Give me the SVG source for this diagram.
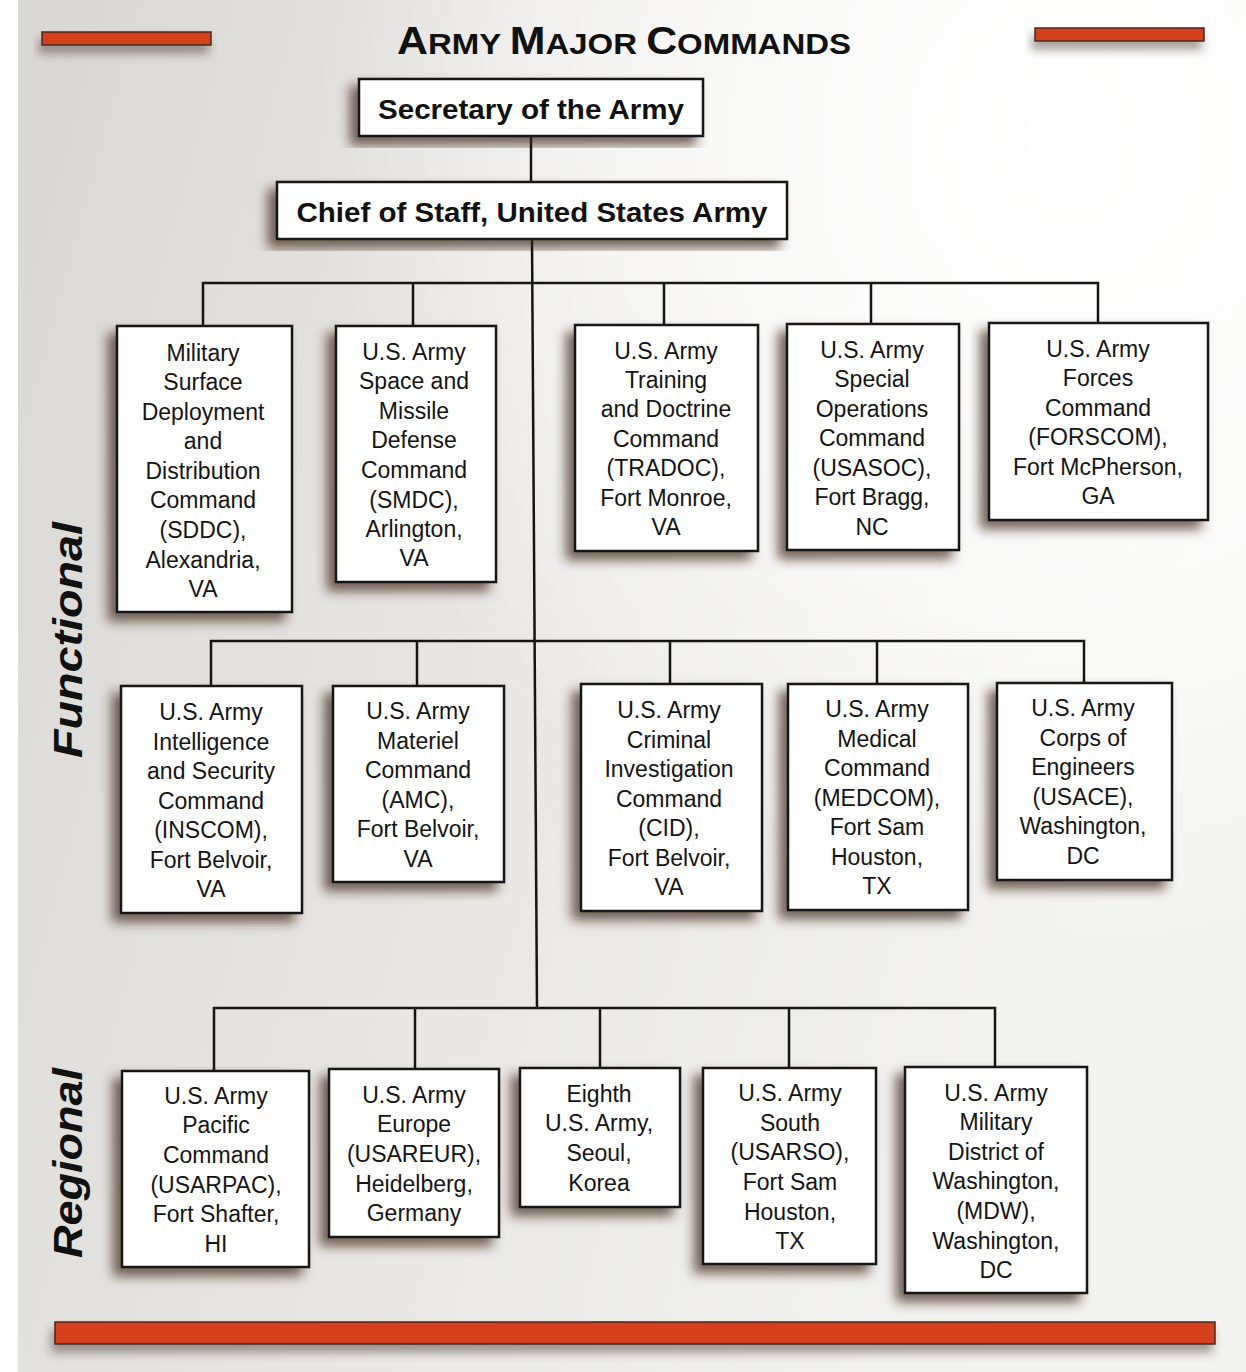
<svg xmlns="http://www.w3.org/2000/svg" width="1246" height="1372" viewBox="0 0 1246 1372">
<defs>
<linearGradient id="bg" x1="0" y1="0" x2="1" y2="0.3">
<stop offset="0" stop-color="#d9d7d3"/>
<stop offset="0.5" stop-color="#e8e7e4"/>
<stop offset="1" stop-color="#f3f3f1"/>
</linearGradient>
<radialGradient id="hl" cx="0.85" cy="0.1" r="0.6">
<stop offset="0" stop-color="#ffffff" stop-opacity="1"/>
<stop offset="0.6" stop-color="#ffffff" stop-opacity="0.6"/>
<stop offset="1" stop-color="#ffffff" stop-opacity="0"/>
</radialGradient>
<filter id="sh" x="-20%" y="-10%" width="140%" height="130%">
<feDropShadow dx="-8" dy="8" stdDeviation="6" flood-color="#3a2418" flood-opacity="0.7"/>
</filter>
<filter id="shb" x="-5%" y="-50%" width="110%" height="300%">
<feDropShadow dx="-3" dy="8" stdDeviation="5" flood-color="#3a2a20" flood-opacity="0.45"/>
</filter>
</defs>
<style>
.box { fill: #ffffff; stroke: #151515; stroke-width: 2.5; filter: url(#sh); }
.t { font-family: "Liberation Sans", Arial, sans-serif; font-size: 23px; fill: #141414; text-anchor: middle; }
.h { font-family: "Liberation Sans", Arial, sans-serif; font-size: 28px; font-weight: bold; fill: #111; text-anchor: middle; }
.side { font-family: "Liberation Sans", Arial, sans-serif; font-size: 40px; font-weight: bold; font-style: italic; fill: #111; text-anchor: middle; }
.bar { fill: #d4411f; stroke: #4a2a20; stroke-width: 1.5; filter: url(#shb); }
.ln { fill: none; stroke: #151515; stroke-width: 2.5; }
</style>
<rect x="0" y="0" width="1246" height="1372" fill="url(#bg)"/>
<rect x="0" y="0" width="1246" height="1372" fill="url(#hl)"/>
<rect x="0" y="0" width="18" height="1372" fill="#ffffff"/>

<rect class="bar" x="42" y="32" width="169" height="13"/>
<rect class="bar" x="1035" y="28" width="169" height="13"/>
<rect class="bar" x="55" y="1322" width="1160" height="22"/>

<text x="624" y="54" font-family="Liberation Sans, Arial, sans-serif" font-weight="bold" fill="#111" text-anchor="middle" textLength="454" lengthAdjust="spacingAndGlyphs"><tspan font-size="39">A</tspan><tspan font-size="30">RMY </tspan><tspan font-size="39">M</tspan><tspan font-size="30">AJOR </tspan><tspan font-size="39">C</tspan><tspan font-size="30">OMMANDS</tspan></text>

<text class="side" transform="translate(82,640) rotate(-90)" textLength="236" lengthAdjust="spacingAndGlyphs">Functional</text>
<text class="side" transform="translate(82,1163) rotate(-90)" textLength="190" lengthAdjust="spacingAndGlyphs">Regional</text>

<g id="connectors">
<path class="ln" d="M531 136 V182"/>
<path class="ln" d="M532 239 L537 1008"/>
<path class="ln" d="M203 326 V283 H1098 V323 M413 326 V283 M664 325 V283 M871 324 V283"/>
<path class="ln" d="M211 686 V641 H1084 V683 M417 686 V641 M670 684 V641 M877 684 V641"/>
<path class="ln" d="M214 1071 V1008 H995 V1067 M415 1069 V1008 M600 1068 V1008 M789 1068 V1008"/>
</g>

<g id="sec">
<rect class="box" x="359" y="79" width="344" height="57"/>
<text class="h" x="531" y="119" textLength="306" lengthAdjust="spacingAndGlyphs">Secretary of the Army</text>
</g>
<g id="chief">
<rect class="box" x="277" y="182" width="510" height="57"/>
<text class="h" x="532" y="222" textLength="471" lengthAdjust="spacingAndGlyphs">Chief of Staff, United States Army</text>
</g>

<g id="sddc">
<rect class="box" x="117" y="326" width="175" height="286"/>
<text class="t"><tspan x="203" y="361">Military</tspan><tspan x="203" y="390">Surface</tspan><tspan x="203" y="420">Deployment</tspan><tspan x="203" y="449">and</tspan><tspan x="203" y="479">Distribution</tspan><tspan x="203" y="508">Command</tspan><tspan x="203" y="538">(SDDC),</tspan><tspan x="203" y="568">Alexandria,</tspan><tspan x="203" y="597">VA</tspan></text>
</g>
<g id="smdc">
<rect class="box" x="336" y="326" width="160" height="256"/>
<text class="t"><tspan x="414" y="360">U.S. Army</tspan><tspan x="414" y="389">Space and</tspan><tspan x="414" y="419">Missile</tspan><tspan x="414" y="448">Defense</tspan><tspan x="414" y="478">Command</tspan><tspan x="414" y="508">(SMDC),</tspan><tspan x="414" y="537">Arlington,</tspan><tspan x="414" y="566">VA</tspan></text>
</g>
<g id="tradoc">
<rect class="box" x="575" y="325" width="183" height="226"/>
<text class="t"><tspan x="666" y="359">U.S. Army</tspan><tspan x="666" y="388">Training</tspan><tspan x="666" y="417">and Doctrine</tspan><tspan x="666" y="447">Command</tspan><tspan x="666" y="476">(TRADOC),</tspan><tspan x="666" y="506">Fort Monroe,</tspan><tspan x="666" y="535">VA</tspan></text>
</g>
<g id="usasoc">
<rect class="box" x="787" y="324" width="172" height="226"/>
<text class="t"><tspan x="872" y="358">U.S. Army</tspan><tspan x="872" y="387">Special</tspan><tspan x="872" y="417">Operations</tspan><tspan x="872" y="446">Command</tspan><tspan x="872" y="476">(USASOC),</tspan><tspan x="872" y="505">Fort Bragg,</tspan><tspan x="872" y="535">NC</tspan></text>
</g>
<g id="forscom">
<rect class="box" x="989" y="323" width="219" height="197"/>
<text class="t"><tspan x="1098" y="357">U.S. Army</tspan><tspan x="1098" y="386">Forces</tspan><tspan x="1098" y="416">Command</tspan><tspan x="1098" y="445">(FORSCOM),</tspan><tspan x="1098" y="475">Fort McPherson,</tspan><tspan x="1098" y="504">GA</tspan></text>
</g>

<g id="inscom">
<rect class="box" x="121" y="686" width="181" height="227"/>
<text class="t"><tspan x="211" y="720">U.S. Army</tspan><tspan x="211" y="750">Intelligence</tspan><tspan x="211" y="779">and Security</tspan><tspan x="211" y="809">Command</tspan><tspan x="211" y="838">(INSCOM),</tspan><tspan x="211" y="868">Fort Belvoir,</tspan><tspan x="211" y="897">VA</tspan></text>
</g>
<g id="amc">
<rect class="box" x="333" y="686" width="171" height="196"/>
<text class="t"><tspan x="418" y="719">U.S. Army</tspan><tspan x="418" y="749">Materiel</tspan><tspan x="418" y="778">Command</tspan><tspan x="418" y="808">(AMC),</tspan><tspan x="418" y="837">Fort Belvoir,</tspan><tspan x="418" y="867">VA</tspan></text>
</g>
<g id="cid">
<rect class="box" x="581" y="684" width="181" height="227"/>
<text class="t"><tspan x="669" y="718">U.S. Army</tspan><tspan x="669" y="748">Criminal</tspan><tspan x="669" y="777">Investigation</tspan><tspan x="669" y="807">Command</tspan><tspan x="669" y="836">(CID),</tspan><tspan x="669" y="866">Fort Belvoir,</tspan><tspan x="669" y="895">VA</tspan></text>
</g>
<g id="medcom">
<rect class="box" x="788" y="684" width="180" height="226"/>
<text class="t"><tspan x="877" y="717">U.S. Army</tspan><tspan x="877" y="747">Medical</tspan><tspan x="877" y="776">Command</tspan><tspan x="877" y="806">(MEDCOM),</tspan><tspan x="877" y="835">Fort Sam</tspan><tspan x="877" y="865">Houston,</tspan><tspan x="877" y="894">TX</tspan></text>
</g>
<g id="usace">
<rect class="box" x="997" y="683" width="175" height="197"/>
<text class="t"><tspan x="1083" y="716">U.S. Army</tspan><tspan x="1083" y="746">Corps of</tspan><tspan x="1083" y="775">Engineers</tspan><tspan x="1083" y="805">(USACE),</tspan><tspan x="1083" y="834">Washington,</tspan><tspan x="1083" y="864">DC</tspan></text>
</g>

<g id="usarpac">
<rect class="box" x="122" y="1071" width="187" height="196"/>
<text class="t"><tspan x="216" y="1104">U.S. Army</tspan><tspan x="216" y="1133">Pacific</tspan><tspan x="216" y="1163">Command</tspan><tspan x="216" y="1193">(USARPAC),</tspan><tspan x="216" y="1222">Fort Shafter,</tspan><tspan x="216" y="1252">HI</tspan></text>
</g>
<g id="usareur">
<rect class="box" x="329" y="1069" width="170" height="168"/>
<text class="t"><tspan x="414" y="1103">U.S. Army</tspan><tspan x="414" y="1132">Europe</tspan><tspan x="414" y="1162">(USAREUR),</tspan><tspan x="414" y="1192">Heidelberg,</tspan><tspan x="414" y="1221">Germany</tspan></text>
</g>
<g id="eighth">
<rect class="box" x="520" y="1068" width="160" height="139"/>
<text class="t"><tspan x="599" y="1102">Eighth</tspan><tspan x="599" y="1131">U.S. Army,</tspan><tspan x="599" y="1161">Seoul,</tspan><tspan x="599" y="1191">Korea</tspan></text>
</g>
<g id="usarso">
<rect class="box" x="703" y="1068" width="173" height="196"/>
<text class="t"><tspan x="790" y="1101">U.S. Army</tspan><tspan x="790" y="1131">South</tspan><tspan x="790" y="1160">(USARSO),</tspan><tspan x="790" y="1190">Fort Sam</tspan><tspan x="790" y="1220">Houston,</tspan><tspan x="790" y="1249">TX</tspan></text>
</g>
<g id="mdw">
<rect class="box" x="905" y="1067" width="182" height="226"/>
<text class="t"><tspan x="996" y="1101">U.S. Army</tspan><tspan x="996" y="1130">Military</tspan><tspan x="996" y="1160">District of</tspan><tspan x="996" y="1189">Washington,</tspan><tspan x="996" y="1219">(MDW),</tspan><tspan x="996" y="1249">Washington,</tspan><tspan x="996" y="1278">DC</tspan></text>
</g>
</svg>
